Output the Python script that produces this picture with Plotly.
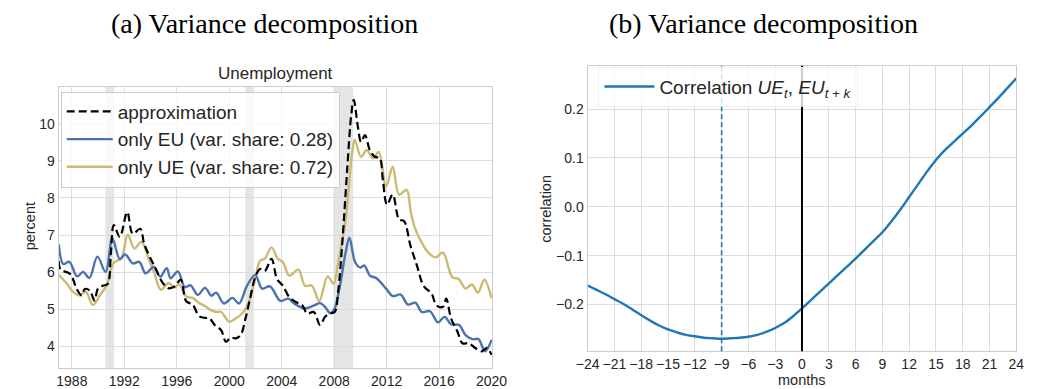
import plotly.graph_objects as go

# ---------------- panel (a): unemployment decomposition ----------------
approx_dates = [1987.0, 1987.13, 1987.88, 1988.37, 1988.74, 1988.99, 1989.36, 1989.73, 1989.98,
                1990.35, 1990.72, 1990.97, 1991.2, 1991.65, 1992.22, 1992.64, 1993.21, 1993.51,
                1994.0, 1994.37, 1994.86, 1995.36, 1995.85, 1996.3, 1996.72, 1997.21, 1997.7,
                1998.2, 1998.5, 1998.89, 1999.38, 1999.75, 2000.12, 2000.5, 2000.87, 2001.24,
                2001.61, 2001.98, 2002.35, 2002.72, 2003.22, 2003.64, 2004.08, 2004.58, 2005.07,
                2005.57, 2005.94, 2006.44, 2006.93, 2007.3, 2007.67, 2008.04, 2008.3, 2008.62,
                2008.99, 2009.31, 2009.49, 2009.81, 2010.05, 2010.35, 2010.72, 2011.09, 2011.47,
                2011.71, 2012.03, 2012.46, 2012.95, 2013.32, 2013.82, 2014.31, 2014.81, 2015.43,
                2015.8, 2016.29, 2016.54, 2016.91, 2017.4, 2017.78, 2018.27, 2018.76, 2019.26,
                2019.63, 2020.0]
approx_values = [6.30, 6.08, 5.95, 5.55, 5.38, 5.55, 5.51, 5.24, 5.55,
                 5.64, 5.68, 6.49, 7.27, 6.95, 7.62, 7.04, 7.17, 6.77,
                 6.37, 6.11, 5.75, 5.57, 5.62, 5.80, 5.22, 5.13, 4.82,
                 4.77, 4.76, 4.58, 4.44, 4.13, 4.24, 4.22, 4.31, 4.76,
                 5.33, 5.87, 6.09, 6.04, 6.36, 5.82, 5.64, 5.33, 5.20,
                 5.11, 4.89, 4.93, 4.58, 4.80, 4.89, 4.93, 5.47, 6.80,
                 8.76, 10.27, 10.64, 9.91, 9.51, 9.69, 9.29, 9.11, 9.07,
                 8.49, 7.82, 8.09, 7.42, 7.38, 6.71, 6.18, 5.64, 5.42,
                 5.11, 5.07, 5.29, 4.76, 4.40, 4.09, 4.09, 3.96, 3.87,
                 3.96, 3.78]

eu_dates = [1987.0, 1987.35, 1987.8, 1988.4, 1988.85, 1989.33, 1989.95, 1990.57, 1991.09,
            1991.65, 1992.07, 1992.64, 1993.14, 1993.63, 1994.25, 1994.74, 1995.23, 1995.53,
            1996.08, 1996.62, 1997.05, 1997.6, 1998.15, 1998.64, 1999.0, 1999.6, 2000.25,
            2000.74, 2001.36, 2001.98, 2002.5, 2003.1, 2003.9, 2004.5, 2004.95, 2005.7,
            2006.44, 2006.93, 2007.3, 2007.7, 2008.0, 2008.4, 2008.87, 2009.16, 2009.6,
            2009.98, 2010.3, 2010.72, 2011.22, 2011.96, 2012.46, 2013.07, 2013.62, 2014.19,
            2014.68, 2015.3, 2015.92, 2016.42, 2016.91, 2017.53, 2018.02, 2018.57, 2019.0,
            2019.5, 2020.0]
eu_values = [6.75, 6.22, 6.28, 5.89, 6.01, 5.85, 6.42, 6.01, 6.91,
             6.36, 6.48, 6.24, 6.28, 5.97, 6.15, 5.88, 6.11, 5.84,
             6.02, 5.60, 5.65, 5.39, 5.58, 5.37, 5.45, 5.16, 5.31,
             5.16, 5.64, 5.93, 5.56, 5.62, 5.23, 5.29, 5.16, 5.03,
             5.10, 5.17, 5.07, 4.90, 5.00, 5.56, 6.53, 6.93, 6.27,
             6.13, 6.18, 5.91, 5.84, 5.56, 5.36, 5.40, 5.13, 5.18,
             4.93, 4.95, 4.65, 4.80, 4.60, 4.58, 4.31, 4.20, 4.20,
             3.87, 4.18]

ue_dates = [1987.0, 1987.58, 1988.07, 1988.57, 1989.06, 1989.6, 1990.17, 1990.67, 1991.16,
            1991.5, 1991.78, 1992.27, 1992.77, 1993.31, 1993.88, 1994.25, 1994.79, 1995.36,
            1995.85, 1996.17, 1996.72, 1997.21, 1997.7, 1998.2, 1998.6, 1999.0, 1999.38,
            2000.0, 2000.5, 2000.99, 2001.49, 2001.98, 2002.35, 2002.72, 2003.22, 2003.71,
            2004.08, 2004.58, 2005.27, 2005.77, 2006.31, 2006.85, 2007.5, 2007.95, 2008.3,
            2008.63, 2008.88, 2009.12, 2009.37, 2009.57, 2010.05, 2010.48, 2010.97, 2011.39,
            2011.96, 2012.46, 2012.95, 2013.52, 2013.85, 2014.19, 2014.81, 2015.2, 2015.75,
            2016.29, 2017.0, 2017.5, 2018.0, 2018.5, 2018.96, 2019.45, 2020.0]
ue_values = [5.93, 5.71, 5.48, 5.38, 5.48, 5.12, 5.40, 5.66, 6.24,
             6.32, 6.37, 7.01, 6.64, 6.82, 6.33, 6.02, 5.53, 5.71,
             5.59, 5.68, 5.35, 5.31, 5.17, 5.08, 4.98, 4.93, 4.93,
             4.67, 4.76, 4.89, 5.20, 5.82, 6.31, 6.37, 6.67, 6.36,
             6.28, 5.91, 6.07, 5.64, 5.64, 5.22, 5.89, 5.69, 6.25,
             6.90, 7.43, 8.32, 9.21, 9.57, 9.11, 9.29, 9.07, 9.24,
             8.31, 8.84, 8.09, 8.22, 7.60, 7.16, 6.71, 6.52, 6.40,
             6.53, 5.87, 5.82, 5.56, 5.67, 5.45, 5.80, 5.30]

# NBER recessions (start, end) in decimal years
recessions = [(1990.55, 1991.22), (2001.21, 2001.88), (2007.95, 2009.45)]

year_ticks = [1988, 1992, 1996, 2000, 2004, 2008, 2012, 2016, 2020]
pct_ticks = [4, 5, 6, 7, 8, 9, 10]

# ---------------- panel (b): lead/lag correlation ----------------
lags = list(range(-24, 25))
corr = [-0.161, -0.170, -0.179, -0.189, -0.199, -0.210, -0.222, -0.233, -0.243, -0.251,
        -0.257, -0.262, -0.265, -0.268, -0.269, -0.270, -0.269, -0.268, -0.266, -0.262,
        -0.256, -0.248, -0.238, -0.224, -0.208, -0.191, -0.174, -0.157, -0.140, -0.123,
        -0.106, -0.088, -0.070, -0.052, -0.030, -0.006, 0.020, 0.046, 0.072, 0.096,
        0.116, 0.133, 0.150, 0.167, 0.185, 0.204, 0.223, 0.243, 0.263]
min_lag = -9
lag_ticks = list(range(-24, 25, 3))
corr_ticks = [-0.2, -0.1, 0.0, 0.1, 0.2]

# ---------------- styling ----------------
W, H = 1042, 389
SANS = "Liberation Sans, Arial, sans-serif"
SERIF = "Liberation Serif, Times New Roman, serif"
GRID = "#dcdcdc"
SPINE = "#cccccc"
TICKC = "#262626"
BLUE_EU = "#4C72B0"
GOLD_UE = "#CCB974"
TAB_BLUE = "#1f77b4"


def px_x(a, b):
    return [a / W, b / W]


def px_y(top, bottom):
    return [1 - bottom / H, 1 - top / H]


fig = go.Figure()

fig.add_trace(go.Scatter(
    x=ue_dates, y=ue_values, mode="lines", name="only UE (var. share: 0.72)",
    line=dict(color=GOLD_UE, width=2.4, shape="spline", smoothing=1.0),
    xaxis="x", yaxis="y", legend="legend", legendrank=3, legendgroup="c"))
fig.add_trace(go.Scatter(
    x=eu_dates, y=eu_values, mode="lines", name="only EU (var. share: 0.28)",
    line=dict(color=BLUE_EU, width=2.4, shape="spline", smoothing=1.0),
    xaxis="x", yaxis="y", legend="legend", legendrank=2, legendgroup="b"))
fig.add_trace(go.Scatter(
    x=approx_dates, y=approx_values, mode="lines", name="approximation",
    line=dict(color="black", width=2.2, dash="8px,4px", shape="spline", smoothing=1.0),
    xaxis="x", yaxis="y", legend="legend", legendrank=1, legendgroup="a"))

fig.add_trace(go.Scatter(
    x=lags, y=corr, mode="lines",
    name="Correlation <i>UE</i><sub><i>t</i></sub>, <i>EU</i><sub><i>t + k</i></sub>",
    line=dict(color=TAB_BLUE, width=2.4, shape="spline", smoothing=1.0),
    xaxis="x2", yaxis="y2", legend="legend2"))

shapes = []
for s, e in recessions:
    shapes.append(dict(type="rect", xref="x", yref="y domain", x0=s, x1=e, y0=0, y1=1,
                       fillcolor="rgba(0,0,0,0.10)", line=dict(width=0), layer="below"))
shapes.append(dict(type="line", xref="x2", yref="y2 domain", x0=min_lag, x1=min_lag, y0=0, y1=1,
                   line=dict(color=TAB_BLUE, width=1.6, dash="5px,3px")))
shapes.append(dict(type="line", xref="x2", yref="y2 domain", x0=0, x1=0, y0=0, y1=1,
                   line=dict(color="black", width=2)))

axis_common = dict(showgrid=True, gridcolor=GRID, gridwidth=1, showline=True, linecolor=SPINE,
                   linewidth=1.3, mirror=True, zeroline=False, ticks="",
                   tickfont=dict(family=SANS, size=14, color=TICKC))

annotations = [
    dict(text="(a) Variance decomposition", x=259 / W, y=1 - 24 / H, xref="paper", yref="paper",
         showarrow=False, font=dict(family=SERIF, size=28, color="black"),
         xanchor="center", yanchor="middle"),
    dict(text="(b) Variance decomposition", x=771 / W, y=1 - 24 / H, xref="paper", yref="paper",
         showarrow=False, font=dict(family=SERIF, size=28, color="black"),
         xanchor="center", yanchor="middle"),
    dict(text="Unemployment", x=271 / W, y=1 - 74 / H, xref="paper", yref="paper",
         showarrow=False, font=dict(family=SANS, size=17, color=TICKC),
         xanchor="center", yanchor="middle"),
    dict(text="percent", x=18 / W, y=1 - 228 / H, xref="paper", yref="paper", textangle=-90,
         showarrow=False, font=dict(family=SANS, size=14.5, color=TICKC),
         xanchor="center", yanchor="middle"),
    dict(text="correlation", x=548 / W, y=1 - 210 / H, xref="paper", yref="paper", textangle=-90,
         showarrow=False, font=dict(family=SANS, size=14.5, color=TICKC),
         xanchor="center", yanchor="middle"),
    dict(text="months", x=811 / W, y=1 - 382 / H, xref="paper", yref="paper",
         showarrow=False, font=dict(family=SANS, size=14.5, color=TICKC),
         xanchor="center", yanchor="middle"),
]

fig.update_layout(
    width=W, height=H, margin=dict(l=0, r=0, t=0, b=0),
    paper_bgcolor="white", plot_bgcolor="white",
    xaxis=dict(domain=px_x(48, 493), range=[1987.0, 2020.05], tickvals=year_ticks,
               anchor="y", **axis_common),
    yaxis=dict(domain=px_y(87, 370), range=[3.42, 11.0], tickvals=pct_ticks,
               anchor="x", **axis_common),
    xaxis2=dict(domain=px_x(591, 1031), range=[-24, 24], tickvals=lag_ticks,
                anchor="y2", **axis_common),
    yaxis2=dict(domain=px_y(66, 353), range=[-0.2955, 0.289], tickvals=corr_ticks,
                tickformat=".1f", anchor="x2", **axis_common),
    legend=dict(x=50 / W, y=1 - 92 / H, xanchor="left", yanchor="top",
                bgcolor="rgba(255,255,255,0.8)", bordercolor=SPINE, borderwidth=1,
                font=dict(family=SANS, size=19, color=TICKC), tracegroupgap=0,
                traceorder="grouped", itemwidth=46),
    legend2=dict(x=602 / W, y=1 - 67 / H, xanchor="left", yanchor="top",
                 bgcolor="rgba(255,255,255,0.8)", bordercolor="rgba(235,235,235,0.8)",
                 borderwidth=1, font=dict(family=SANS, size=19, color=TICKC), itemwidth=50),
    shapes=shapes,
    annotations=annotations,
    showlegend=True,
)

fig.write_html("out.html")
